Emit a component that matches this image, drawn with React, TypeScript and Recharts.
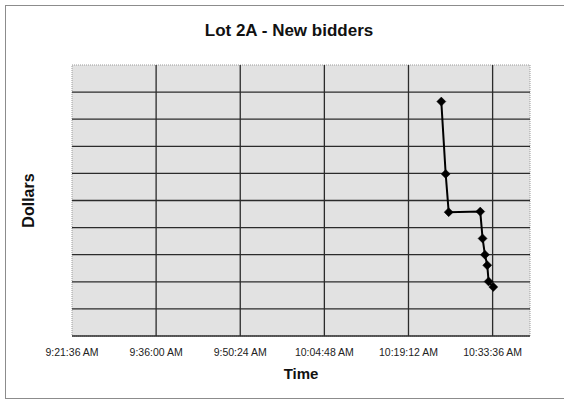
import React from 'react';
import { LineChart, Line, XAxis, YAxis, ReferenceLine, ReferenceArea, Label } from 'recharts';

const titleText = 'Lot 2A - New bidders';
const xAxisTitle = 'Time';
const yAxisTitle = 'Dollars';

const tickTimes = ['9:21:36', '9:36:00', '9:50:24', '10:04:48', '10:19:12', '10:33:36'];
const tickLabels = ['9:21:36 AM', '9:36:00 AM', '9:50:24 AM', '10:04:48 AM', '10:19:12 AM', '10:33:36 AM'];
const axisEndTime = '10:40:00';
const dollarLevels = [0, 1, 2, 3, 4, 5, 6, 7, 8, 9, 10];

const bidTimes = ['10:24:49', '10:25:34', '10:26:05', '10:31:29', '10:31:53', '10:32:17', '10:32:41', '10:32:55', '10:33:43'];
const bidDollars = [8.65, 5.98, 4.57, 4.59, 3.6, 3.0, 2.61, 2.01, 1.81];

const toSec = (s: string) => {
  const [h, m, sec] = s.split(':').map(Number);
  return h * 3600 + m * 60 + sec;
};

const tickSecs = tickTimes.map(toSec);
const xMin = tickSecs[0];
const xMax = toSec(axisEndTime);
const yMin = dollarLevels[0];
const yMax = dollarLevels[dollarLevels.length - 1];

const data = bidTimes.map((t, i) => ({ t: toSec(t), v: bidDollars[i] }));

const font = '"Liberation Sans", Arial, Helvetica, sans-serif';
const gridColor = '#2b2b2b';

const Diamond = (props: any) => {
  const { cx, cy, index } = props;
  if (cx == null || cy == null) return null;
  const r = 4.5;
  return (
    <polygon
      key={`d-${index}`}
      points={`${cx},${cy - r} ${cx + r},${cy} ${cx},${cy + r} ${cx - r},${cy}`}
      fill="#000"
      stroke="#000"
      strokeWidth={0.5}
    />
  );
};

export default function App() {
  return (
    <div style={{ position: 'absolute', left: 0, top: 0, width: 564, height: 400, overflow: 'hidden', background: '#fff' }}>
      <div
        style={{
          position: 'absolute',
          left: 5,
          top: 5,
          width: 600,
          height: 392,
          borderLeft: '1.5px solid #8c8c8c',
          borderTop: '1.5px solid #8c8c8c',
          borderBottom: '1.5px solid #8c8c8c',
        }}
      />
      <div
        style={{
          position: 'absolute',
          left: 0,
          top: 22,
          width: 578,
          textAlign: 'center',
          fontFamily: font,
          fontWeight: 'bold',
          fontSize: 17,
          lineHeight: '17px',
          color: '#111',
        }}
      >
        {titleText}
      </div>
      <div style={{ position: 'absolute', left: 0, top: 0 }}>
        <LineChart width={564} height={400} data={data} margin={{ top: 65, right: 34, left: 16, bottom: 20 }}>
          <XAxis
            dataKey="t"
            type="number"
            domain={[xMin, xMax]}
            ticks={tickSecs}
            tickFormatter={(v: number) => tickLabels[tickSecs.indexOf(v)] ?? ''}
            axisLine={false}
            tickLine={false}
            tickSize={8}
            tickMargin={5}
            height={44}
            interval={0}
            allowDataOverflow
            tick={{ fontSize: 10.5, fill: '#222', fontFamily: font }}
          >
            <Label
              value={xAxisTitle}
              position="insideBottom"
              offset={1}
              style={{ fontSize: 15, fontWeight: 'bold', fill: '#111', fontFamily: font }}
            />
          </XAxis>
          <YAxis
            type="number"
            domain={[yMin, yMax]}
            ticks={dollarLevels}
            width={56}
            tick={false}
            axisLine={false}
            tickLine={false}
            allowDataOverflow
          >
            <Label
              value={yAxisTitle}
              angle={-90}
              position="insideLeft"
              offset={12}
              style={{ fontSize: 16, fontWeight: 'bold', fill: '#111', fontFamily: font, textAnchor: 'middle' }}
            />
          </YAxis>
          <ReferenceArea
            x1={xMin}
            x2={xMax}
            y1={yMin}
            y2={yMax}
            fill="#e2e2e2"
            fillOpacity={1}
            stroke="#9a9a9a"
            strokeWidth={1}
            strokeDasharray="1 1"
          />
          {dollarLevels.slice(0, -1).map((lv) => (
            <ReferenceLine key={`h-${lv}`} y={lv} stroke={gridColor} strokeWidth={1.3} />
          ))}
          {tickSecs.slice(1).map((t) => (
            <ReferenceLine key={`v-${t}`} x={t} stroke={gridColor} strokeWidth={1.3} />
          ))}
          <Line
            type="linear"
            dataKey="v"
            stroke="#000"
            strokeWidth={2}
            dot={Diamond}
            activeDot={false}
            isAnimationActive={false}
          />
        </LineChart>
      </div>
    </div>
  );
}
